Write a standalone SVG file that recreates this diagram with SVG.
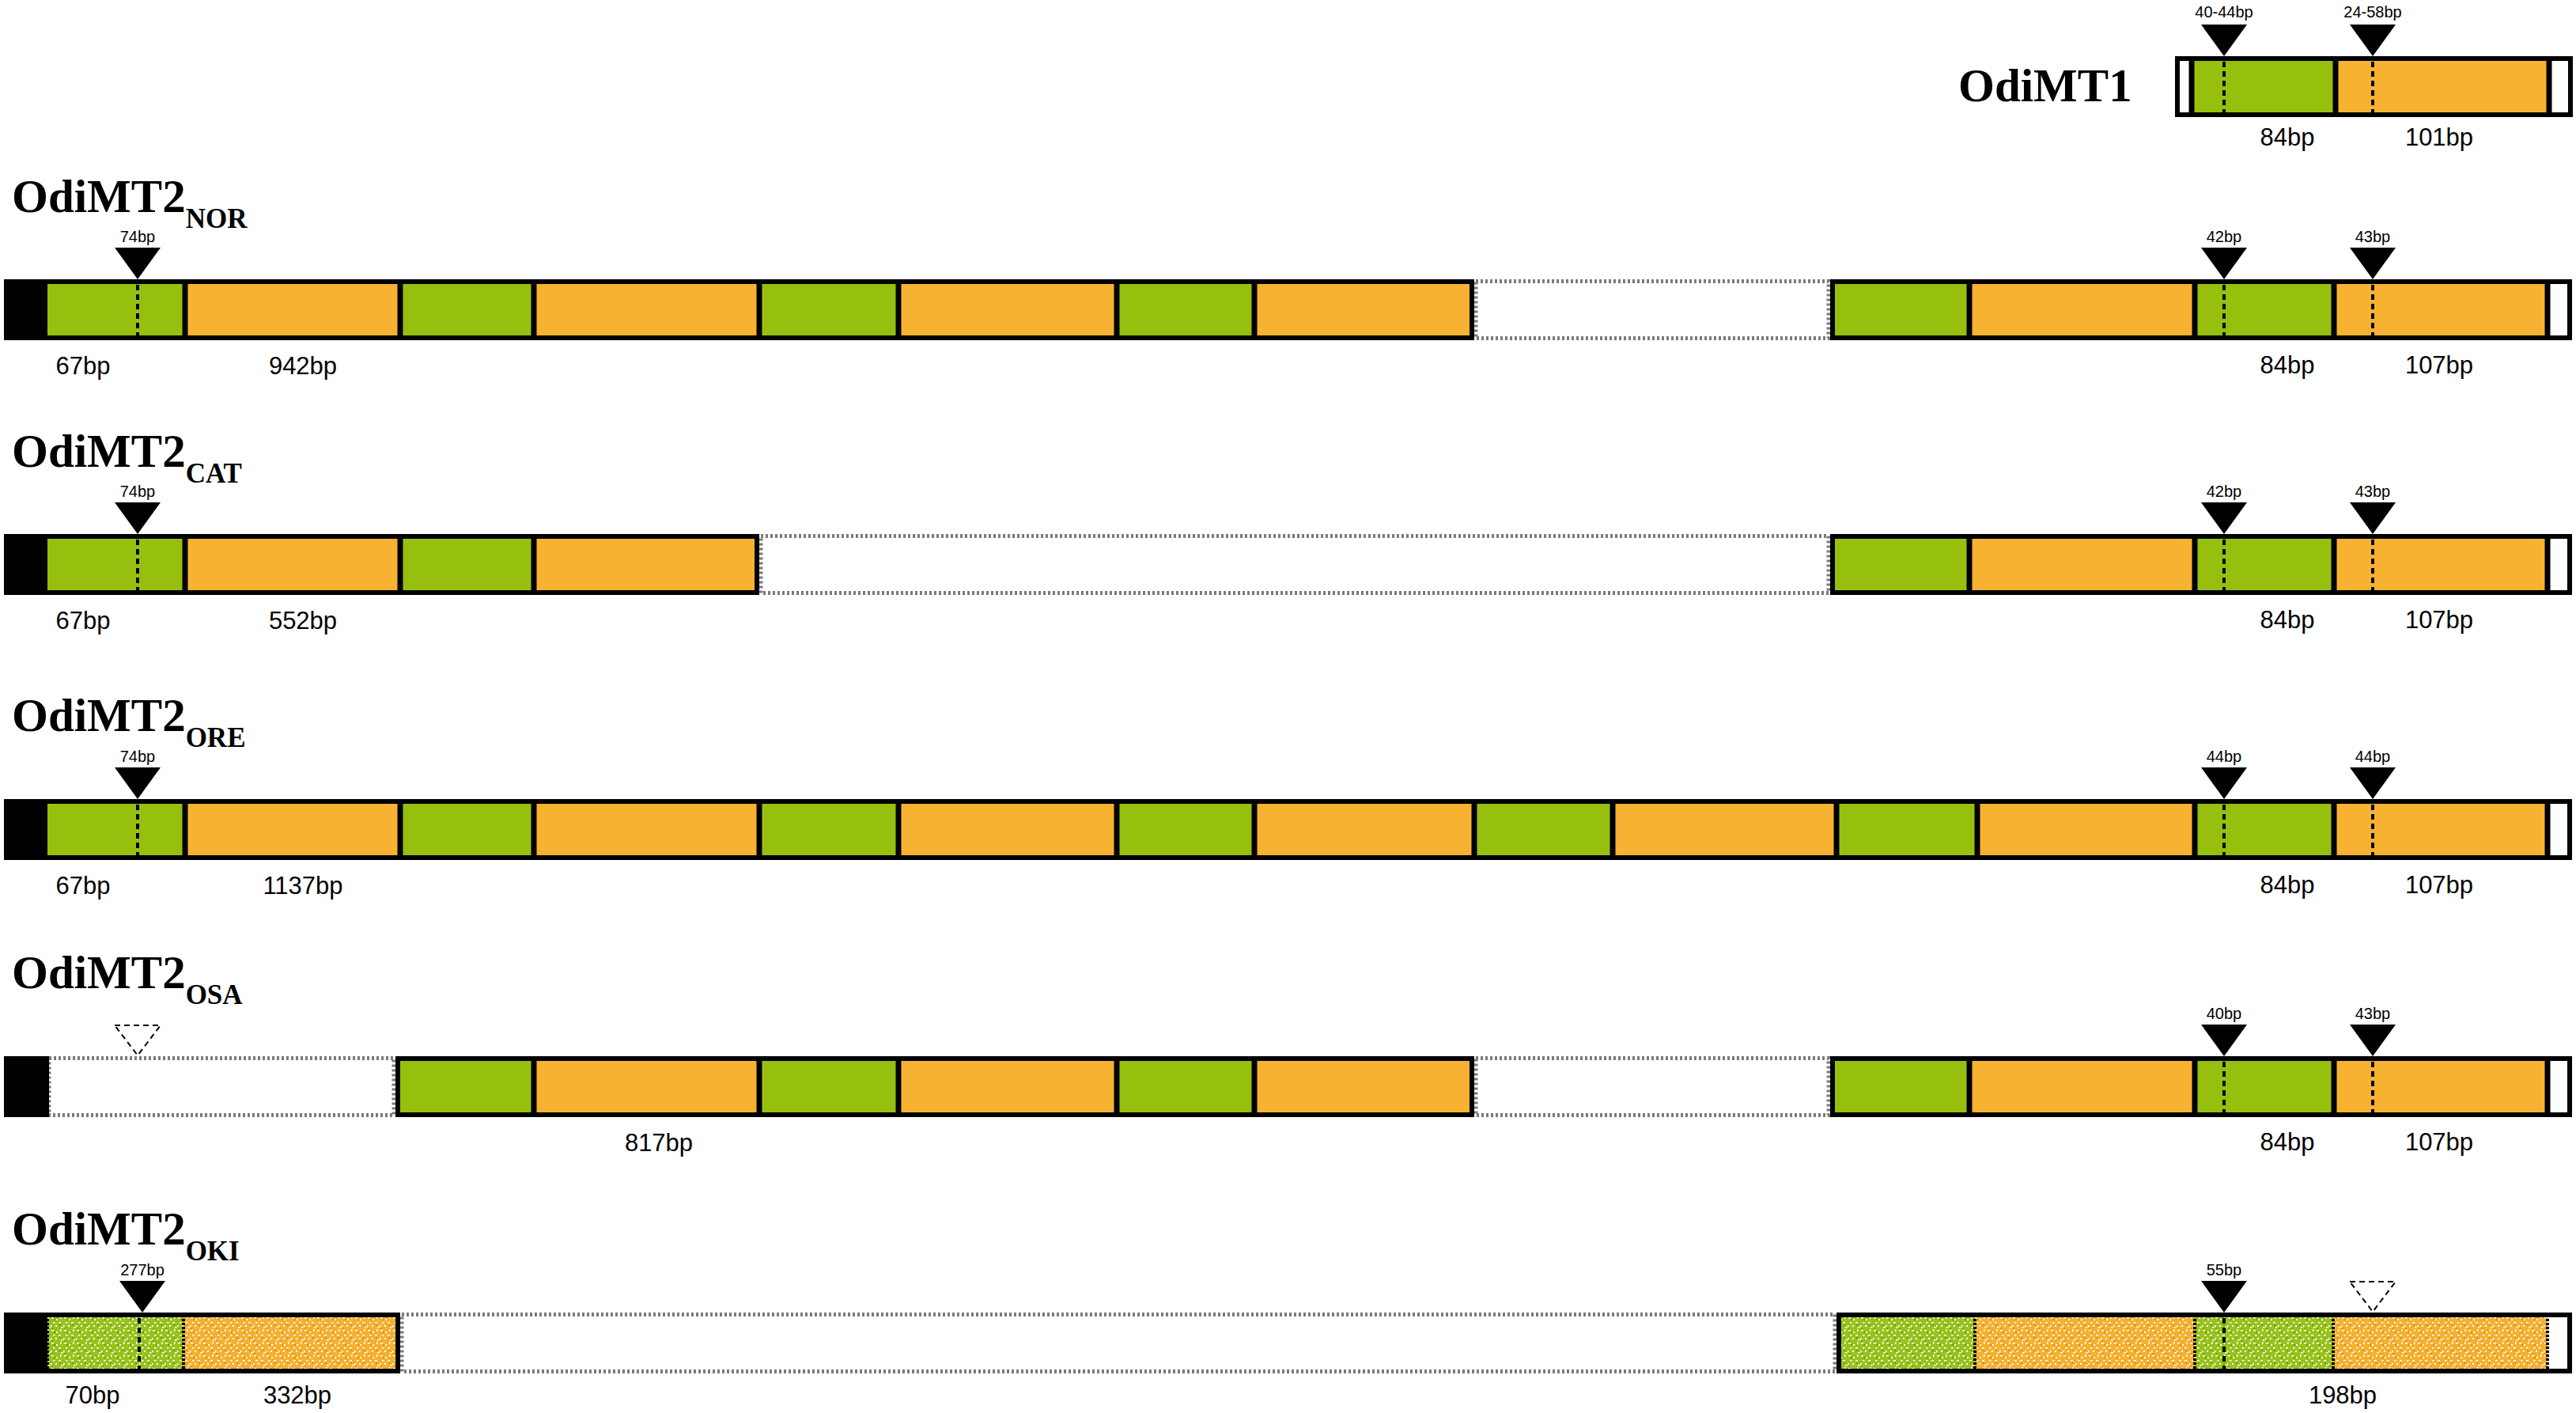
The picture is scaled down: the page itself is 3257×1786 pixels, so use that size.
<svg xmlns="http://www.w3.org/2000/svg" width="3257" height="1786" viewBox="0 0 3257 1786">
<style>
.g{fill:#97c00e}.o{fill:#f8b232}.w{fill:#fff}.k{fill:#000}
.sg{fill:url(#pg)}.so{fill:url(#po)}
.box{fill:none;stroke:#000;stroke-width:6}
.dv{stroke:#000;stroke-width:7}
.dvs{stroke:#000;stroke-width:4;stroke-dasharray:3 2}
.dot{stroke:#000;stroke-width:4;stroke-dasharray:7 5}
.gap{fill:#fff;stroke:#7a7a7a;stroke-width:5;stroke-dasharray:3 3}
.tri{fill:#000}
.trid{fill:#fff;stroke:#000;stroke-width:2;stroke-dasharray:7 5}
.title{font-family:"Liberation Serif",serif;font-weight:bold;font-size:59px;fill:#000}
.sub{font-size:35px}
.lbl{font-family:"Liberation Sans",sans-serif;font-size:31px;text-anchor:middle;fill:#000}
.tl{font-family:"Liberation Sans",sans-serif;font-size:20px;text-anchor:middle;fill:#000}
</style>
<defs>
<pattern id="pg" width="16" height="16" patternUnits="userSpaceOnUse">
<rect width="16" height="16" fill="#98c21c"/>
<g fill="#6f9a12"><rect x="4" y="3" width="2" height="2"/><rect x="11" y="10" width="2" height="2"/><rect x="1" y="14" width="2" height="1.5"/></g>
<g fill="#fff"><rect x="1" y="1" width="3" height="1.5"/><rect x="7" y="3" width="2" height="2"/><rect x="12" y="0" width="1.5" height="3"/><rect x="3" y="7" width="2.5" height="1.5"/><rect x="10" y="7" width="3" height="1.5"/><rect x="0" y="11" width="1.5" height="2.5"/><rect x="6" y="11" width="2" height="2"/><rect x="13" y="13" width="2.5" height="1.5"/></g>
</pattern>
<pattern id="po" width="16" height="16" patternUnits="userSpaceOnUse">
<rect width="16" height="16" fill="#f5b030"/>
<g fill="#e08a1c"><rect x="4" y="3" width="2" height="2"/><rect x="11" y="10" width="2" height="2"/><rect x="1" y="14" width="2" height="1.5"/></g>
<g fill="#fff"><rect x="1" y="1" width="3" height="1.5"/><rect x="7" y="3" width="2" height="2"/><rect x="12" y="0" width="1.5" height="3"/><rect x="3" y="7" width="2.5" height="1.5"/><rect x="10" y="7" width="3" height="1.5"/><rect x="0" y="11" width="1.5" height="2.5"/><rect x="6" y="11" width="2" height="2"/><rect x="13" y="13" width="2.5" height="1.5"/></g>
</pattern>
</defs>
<rect width="3257" height="1786" fill="#fff"/>

<!-- OdiMT1 -->
<g id="OdiMT1">
<text class="title" x="2476" y="128">OdiMT1</text>
<rect class="w" x="2750" y="71" width="23" height="77"/>
<rect class="g" x="2771" y="71" width="182" height="77"/>
<rect class="o" x="2953" y="71" width="270" height="77"/>
<rect class="w" x="3223" y="71" width="30" height="77"/>
<line class="dv" x1="2771" y1="71" x2="2771" y2="148"/>
<line class="dv" x1="2953" y1="71" x2="2953" y2="148"/>
<line class="dv" x1="3223" y1="71" x2="3223" y2="148"/>
<rect class="box" x="2753" y="74" width="497" height="71"/>
<line class="dot" x1="2812" y1="78" x2="2812" y2="142"/>
<line class="dot" x1="3000" y1="78" x2="3000" y2="142"/>
<path class="tri" d="M2783 31H2841L2812 71Z"/>
<path class="tri" d="M2971 31H3029L3000 71Z"/>
<text class="tl" x="2812" y="22">40-44bp</text>
<text class="tl" x="3000" y="22">24-58bp</text>
<text class="lbl" x="2892" y="184">84bp</text>
<text class="lbl" x="3084" y="184">101bp</text>
</g>

<!-- OdiMT2 NOR -->
<g id="OdiMT2_NOR">
<text class="title" x="15" y="268">OdiMT2<tspan class="sub" dy="20">NOR</tspan></text>
<rect class="gap" x="1866" y="355.5" width="446" height="72"/>
<rect class="k" x="5" y="353" width="55" height="77"/>
<rect class="g" x="60" y="353" width="174" height="77"/>
<rect class="o" x="234" y="353" width="272" height="77"/>
<rect class="g" x="506" y="353" width="169" height="77"/>
<rect class="o" x="675" y="353" width="285" height="77"/>
<rect class="g" x="960" y="353" width="176" height="77"/>
<rect class="o" x="1136" y="353" width="276" height="77"/>
<rect class="g" x="1412" y="353" width="174" height="77"/>
<rect class="o" x="1586" y="353" width="278" height="77"/>
<g class="dv"><line x1="234" y1="353" x2="234" y2="430"/><line x1="506" y1="353" x2="506" y2="430"/><line x1="675" y1="353" x2="675" y2="430"/><line x1="960" y1="353" x2="960" y2="430"/><line x1="1136" y1="353" x2="1136" y2="430"/><line x1="1412" y1="353" x2="1412" y2="430"/><line x1="1586" y1="353" x2="1586" y2="430"/></g>
<rect class="box" x="8" y="356" width="1853" height="71"/>
<rect class="g" x="2314" y="353" width="176" height="77"/>
<rect class="o" x="2490" y="353" width="285" height="77"/>
<rect class="g" x="2775" y="353" width="176" height="77"/>
<rect class="o" x="2951" y="353" width="270" height="77"/>
<rect class="w" x="3221" y="353" width="31" height="77"/>
<g class="dv"><line x1="2490" y1="353" x2="2490" y2="430"/><line x1="2775" y1="353" x2="2775" y2="430"/><line x1="2951" y1="353" x2="2951" y2="430"/><line x1="3221" y1="353" x2="3221" y2="430"/></g>
<rect class="box" x="2317" y="356" width="932" height="71"/>
<g class="dot"><line x1="174" y1="360" x2="174" y2="424"/><line x1="2812" y1="360" x2="2812" y2="424"/><line x1="3000" y1="360" x2="3000" y2="424"/></g>
<path class="tri" d="M145 313H203L174 353Z"/>
<path class="tri" d="M2783 313H2841L2812 353Z"/>
<path class="tri" d="M2971 313H3029L3000 353Z"/>
<text class="tl" x="174" y="306">74bp</text>
<text class="tl" x="2812" y="306">42bp</text>
<text class="tl" x="3000" y="306">43bp</text>
<text class="lbl" x="105" y="473">67bp</text>
<text class="lbl" x="383" y="473">942bp</text>
<text class="lbl" x="2892" y="472">84bp</text>
<text class="lbl" x="3084" y="472">107bp</text>
</g>

<!-- OdiMT2 CAT -->
<g id="OdiMT2_CAT">
<text class="title" x="15" y="590">OdiMT2<tspan class="sub" dy="20">CAT</tspan></text>
<rect class="gap" x="962" y="677.5" width="1350" height="72"/>
<rect class="k" x="5" y="675" width="55" height="77"/>
<rect class="g" x="60" y="675" width="174" height="77"/>
<rect class="o" x="234" y="675" width="272" height="77"/>
<rect class="g" x="506" y="675" width="169" height="77"/>
<rect class="o" x="675" y="675" width="285" height="77"/>
<g class="dv"><line x1="234" y1="675" x2="234" y2="752"/><line x1="506" y1="675" x2="506" y2="752"/><line x1="675" y1="675" x2="675" y2="752"/></g>
<rect class="box" x="8" y="678" width="949" height="71"/>
<rect class="g" x="2314" y="675" width="176" height="77"/>
<rect class="o" x="2490" y="675" width="285" height="77"/>
<rect class="g" x="2775" y="675" width="176" height="77"/>
<rect class="o" x="2951" y="675" width="270" height="77"/>
<rect class="w" x="3221" y="675" width="31" height="77"/>
<g class="dv"><line x1="2490" y1="675" x2="2490" y2="752"/><line x1="2775" y1="675" x2="2775" y2="752"/><line x1="2951" y1="675" x2="2951" y2="752"/><line x1="3221" y1="675" x2="3221" y2="752"/></g>
<rect class="box" x="2317" y="678" width="932" height="71"/>
<g class="dot"><line x1="174" y1="682" x2="174" y2="746"/><line x1="2812" y1="682" x2="2812" y2="746"/><line x1="3000" y1="682" x2="3000" y2="746"/></g>
<path class="tri" d="M145 635H203L174 675Z"/>
<path class="tri" d="M2783 635H2841L2812 675Z"/>
<path class="tri" d="M2971 635H3029L3000 675Z"/>
<text class="tl" x="174" y="628">74bp</text>
<text class="tl" x="2812" y="628">42bp</text>
<text class="tl" x="3000" y="628">43bp</text>
<text class="lbl" x="105" y="795">67bp</text>
<text class="lbl" x="383" y="795">552bp</text>
<text class="lbl" x="2892" y="794">84bp</text>
<text class="lbl" x="3084" y="794">107bp</text>
</g>

<!-- OdiMT2 ORE -->
<g id="OdiMT2_ORE">
<text class="title" x="15" y="924">OdiMT2<tspan class="sub" dy="20">ORE</tspan></text>
<rect class="k" x="5" y="1010" width="55" height="77"/>
<rect class="g" x="60" y="1010" width="174" height="77"/>
<rect class="o" x="234" y="1010" width="272" height="77"/>
<rect class="g" x="506" y="1010" width="169" height="77"/>
<rect class="o" x="675" y="1010" width="285" height="77"/>
<rect class="g" x="960" y="1010" width="176" height="77"/>
<rect class="o" x="1136" y="1010" width="276" height="77"/>
<rect class="g" x="1412" y="1010" width="174" height="77"/>
<rect class="o" x="1586" y="1010" width="278" height="77"/>
<rect class="g" x="1864" y="1010" width="175" height="77"/>
<rect class="o" x="2039" y="1010" width="283" height="77"/>
<rect class="g" x="2322" y="1010" width="178" height="77"/>
<rect class="o" x="2500" y="1010" width="275" height="77"/>
<rect class="g" x="2775" y="1010" width="176" height="77"/>
<rect class="o" x="2951" y="1010" width="270" height="77"/>
<rect class="w" x="3221" y="1010" width="31" height="77"/>
<g class="dv"><line x1="234" y1="1010" x2="234" y2="1087"/><line x1="506" y1="1010" x2="506" y2="1087"/><line x1="675" y1="1010" x2="675" y2="1087"/><line x1="960" y1="1010" x2="960" y2="1087"/><line x1="1136" y1="1010" x2="1136" y2="1087"/><line x1="1412" y1="1010" x2="1412" y2="1087"/><line x1="1586" y1="1010" x2="1586" y2="1087"/><line x1="1864" y1="1010" x2="1864" y2="1087"/><line x1="2039" y1="1010" x2="2039" y2="1087"/><line x1="2322" y1="1010" x2="2322" y2="1087"/><line x1="2500" y1="1010" x2="2500" y2="1087"/><line x1="2775" y1="1010" x2="2775" y2="1087"/><line x1="2951" y1="1010" x2="2951" y2="1087"/><line x1="3221" y1="1010" x2="3221" y2="1087"/></g>
<rect class="box" x="8" y="1013" width="3241" height="71"/>
<g class="dot"><line x1="174" y1="1017" x2="174" y2="1081"/><line x1="2812" y1="1017" x2="2812" y2="1081"/><line x1="3000" y1="1017" x2="3000" y2="1081"/></g>
<path class="tri" d="M145 970H203L174 1010Z"/>
<path class="tri" d="M2783 970H2841L2812 1010Z"/>
<path class="tri" d="M2971 970H3029L3000 1010Z"/>
<text class="tl" x="174" y="963">74bp</text>
<text class="tl" x="2812" y="963">44bp</text>
<text class="tl" x="3000" y="963">44bp</text>
<text class="lbl" x="105" y="1130">67bp</text>
<text class="lbl" x="383" y="1130">1137bp</text>
<text class="lbl" x="2892" y="1129">84bp</text>
<text class="lbl" x="3084" y="1129">107bp</text>
</g>

<!-- OdiMT2 OSA -->
<g id="OdiMT2_OSA">
<text class="title" x="15" y="1249">OdiMT2<tspan class="sub" dy="20">OSA</tspan></text>
<rect class="gap" x="62" y="1337.5" width="436" height="72"/>
<rect class="gap" x="1866" y="1337.5" width="446" height="72"/>
<rect class="k" x="5" y="1335" width="57" height="77"/>
<rect class="g" x="500" y="1335" width="175" height="77"/>
<rect class="o" x="675" y="1335" width="285" height="77"/>
<rect class="g" x="960" y="1335" width="176" height="77"/>
<rect class="o" x="1136" y="1335" width="276" height="77"/>
<rect class="g" x="1412" y="1335" width="174" height="77"/>
<rect class="o" x="1586" y="1335" width="278" height="77"/>
<g class="dv"><line x1="675" y1="1335" x2="675" y2="1412"/><line x1="960" y1="1335" x2="960" y2="1412"/><line x1="1136" y1="1335" x2="1136" y2="1412"/><line x1="1412" y1="1335" x2="1412" y2="1412"/><line x1="1586" y1="1335" x2="1586" y2="1412"/></g>
<rect class="box" x="503" y="1338" width="1358" height="71"/>
<rect class="g" x="2314" y="1335" width="176" height="77"/>
<rect class="o" x="2490" y="1335" width="285" height="77"/>
<rect class="g" x="2775" y="1335" width="176" height="77"/>
<rect class="o" x="2951" y="1335" width="270" height="77"/>
<rect class="w" x="3221" y="1335" width="31" height="77"/>
<g class="dv"><line x1="2490" y1="1335" x2="2490" y2="1412"/><line x1="2775" y1="1335" x2="2775" y2="1412"/><line x1="2951" y1="1335" x2="2951" y2="1412"/><line x1="3221" y1="1335" x2="3221" y2="1412"/></g>
<rect class="box" x="2317" y="1338" width="932" height="71"/>
<g class="dot"><line x1="2812" y1="1342" x2="2812" y2="1406"/><line x1="3000" y1="1342" x2="3000" y2="1406"/></g>
<path class="trid" d="M145 1296H203L174 1334Z"/>
<path class="tri" d="M2783 1295H2841L2812 1335Z"/>
<path class="tri" d="M2971 1295H3029L3000 1335Z"/>
<text class="tl" x="2812" y="1288">40bp</text>
<text class="tl" x="3000" y="1288">43bp</text>
<text class="lbl" x="833" y="1455">817bp</text>
<text class="lbl" x="2892" y="1454">84bp</text>
<text class="lbl" x="3084" y="1454">107bp</text>
</g>

<!-- OdiMT2 OKI -->
<g id="OdiMT2_OKI">
<text class="title" x="15" y="1573">OdiMT2<tspan class="sub" dy="20">OKI</tspan></text>
<rect class="gap" x="508" y="1661.5" width="1812" height="72"/>
<rect class="k" x="5" y="1659" width="55" height="77"/>
<rect class="sg" x="60" y="1659" width="172" height="77"/>
<rect class="so" x="232" y="1659" width="274" height="77"/>
<line class="dvs" x1="60" y1="1662" x2="60" y2="1733"/>
<line class="dvs" x1="232" y1="1662" x2="232" y2="1733"/>
<rect class="box" x="8" y="1662" width="495" height="71"/>
<rect class="sg" x="2322" y="1659" width="175" height="77"/>
<rect class="so" x="2497" y="1659" width="278" height="77"/>
<rect class="sg" x="2775" y="1659" width="175" height="77"/>
<rect class="so" x="2950" y="1659" width="271" height="77"/>
<rect class="w" x="3221" y="1659" width="31" height="77"/>
<g class="dvs"><line x1="2497" y1="1662" x2="2497" y2="1733"/><line x1="2775" y1="1662" x2="2775" y2="1733"/><line x1="2950" y1="1662" x2="2950" y2="1733"/><line x1="3221" y1="1662" x2="3221" y2="1733"/></g>
<rect class="box" x="2325" y="1662" width="924" height="71"/>
<g class="dot"><line x1="176" y1="1666" x2="176" y2="1730"/><line x1="2812" y1="1666" x2="2812" y2="1730"/></g>
<path class="tri" d="M151 1619H209L180 1659Z"/>
<path class="tri" d="M2783 1619H2841L2812 1659Z"/>
<path class="trid" d="M2971 1620H3029L3000 1658Z"/>
<text class="tl" x="180" y="1612">277bp</text>
<text class="tl" x="2812" y="1612">55bp</text>
<text class="lbl" x="117" y="1774">70bp</text>
<text class="lbl" x="376" y="1774">332bp</text>
<text class="lbl" x="2962" y="1774">198bp</text>
</g>
<g id="connectors"></g>
</svg>
